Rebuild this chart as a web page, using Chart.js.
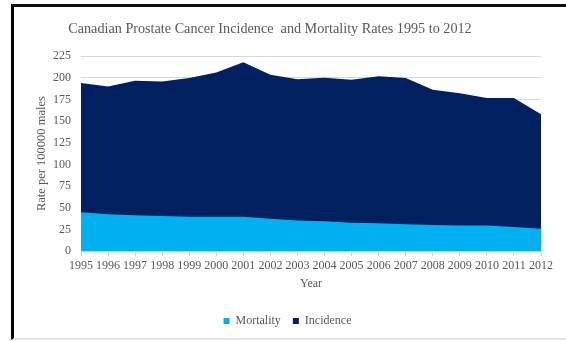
<!DOCTYPE html>
<html>
<head>
<meta charset="utf-8">
<script src="https://cdn.jsdelivr.net/npm/chart.js@4/dist/chart.umd.min.js"></script>
<style>
  body { margin: 0; background: #fff; }
  #wrap { position: relative; width: 566px; height: 341px; }
  #frame {
    position: absolute; left: 11px; top: 4px; width: 555px; height: 336px;
    border-left: 3px solid #000; border-top: 3px solid #111; border-bottom: 2px solid #e6e6e6;
    box-sizing: border-box; pointer-events: none;
  }
  #title {
    position: absolute; left: 0; top: 20px; width: 540px; text-align: center;
    font: 14.2px/16px 'Liberation Serif'; color: #595959; white-space: pre;
  }
  canvas { position: absolute; left: 0; top: 0; }
</style>
</head>
<body>
<div id="wrap">
  <canvas id="chart" width="566" height="341"></canvas>
  <div id="title">Canadian Prostate Cancer Incidence  and Mortality Rates 1995 to 2012</div>
  <div id="frame"></div>
</div>
<script>
// years on the x axis
const years = ['1995', '1996', '1997', '1998', '1999', '2000', '2001', '2002', '2003',
  '2004', '2005', '2006', '2007', '2008', '2009', '2010', '2011', '2012'];
// mortality rate per 100000 males
const mortality = [45, 42.5, 41.5, 40.7, 39.6, 39.6, 39.6, 37.5, 35.5, 34.5, 32.8, 32.2, 31, 30.3, 29.5, 29.5, 28, 26];
// incidence rate per 100000 males (top edge of dark area)
const incidence = [194, 189.7, 196.4, 195.6, 199.5, 206, 217.7, 203.4, 198.3, 200, 197.5, 201.8, 199.5, 186, 182, 176.6, 176.6, 158];

const serif = 'Liberation Serif';
const grey = '#595959';

new Chart(document.getElementById('chart'), {
  type: 'line',
  data: {
    labels: years,
    datasets: [
      {
        label: 'Mortality',
        data: mortality,
        backgroundColor: '#00B0F0',
        borderWidth: 0,
        pointRadius: 0,
        fill: 'origin',
        order: 0
      },
      {
        label: 'Incidence',
        data: incidence,
        backgroundColor: '#002060',
        borderWidth: 0,
        pointRadius: 0,
        fill: 'origin',
        order: 1
      }
    ]
  },
  options: {
    responsive: false,
    animation: false,
    layout: { padding: { left: 34, right: 25, top: 56, bottom: 4 } },
    plugins: {
      legend: {
        position: 'bottom',
        labels: {
          color: grey,
          font: { family: serif, size: 12 },
          boxWidth: 6,
          boxHeight: 6,
          padding: 12
        }
      },
      tooltip: { enabled: false }
    },
    scales: {
      x: {
        offset: false,
        grid: { display: true, drawOnChartArea: false, drawTicks: true, tickLength: 5, tickColor: '#d9d9d9' },
        border: { color: '#d9d9d9' },
        ticks: { color: grey, font: { family: serif, size: 12 }, maxRotation: 0, autoSkip: false, padding: 2 },
        title: { display: true, text: 'Year', color: grey, font: { family: serif, size: 12 }, padding: { top: 2, bottom: 12 } }
      },
      y: {
        min: 0,
        max: 225,
        afterFit: function (scale) { scale.width = 47; }, // axis line lands at x = 81
        ticks: { stepSize: 25, color: grey, font: { family: serif, size: 12 }, padding: 10 },
        grid: { color: '#d9d9d9', drawTicks: false },
        border: { display: false },
        title: { display: true, text: 'Rate per 100000 males', color: grey, font: { family: serif, size: 12.5 }, padding: { top: 0, bottom: 0 } }
      }
    }
  }
});
</script>
</body>
</html>
